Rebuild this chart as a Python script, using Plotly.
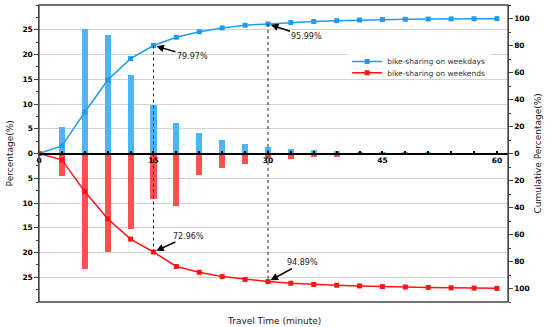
import plotly.graph_objects as go

# ---- data ----
minutes = [3, 6, 9, 12, 15, 18, 21, 24, 27, 30, 33, 36, 39, 42, 45, 48, 51, 54, 57, 60]
weekday_pct = [5.3, 25.1, 23.9, 15.9, 9.7, 6.2, 4.1, 2.7, 1.9, 1.35, 0.95, 0.75, 0.5, 0.35, 0.3, 0.2, 0.15, 0.1, 0.1, 0.1]
weekend_pct = [4.5, 23.4, 19.9, 15.3, 9.1, 10.6, 4.4, 3.0, 2.2, 1.0, 1.2, 0.8, 0.7, 0.4, 0.35, 0.3, 0.1, 0.05, 0.05, 0.05]

cum_minutes = [0, 3, 6, 9, 12, 15, 18, 21, 24, 27, 30, 33, 36, 39, 42, 45, 48, 51, 54, 57, 60]
weekday_cum = [0, 5.6, 30.6, 54.4, 70.3, 79.97, 86.1, 90.2, 93.0, 95.0, 95.99, 97.0, 97.8, 98.4, 98.9, 99.2, 99.4, 99.6, 99.7, 99.8, 99.9]
weekend_cum = [0, 4.7, 28.2, 48.3, 63.4, 72.96, 83.7, 88.0, 91.2, 93.3, 94.89, 96.1, 97.0, 97.6, 98.1, 98.6, 98.9, 99.2, 99.5, 99.7, 99.9]

x_ticks = [0, 15, 30, 45, 60]
left_ticks = [-25, -20, -15, -10, -5, 0, 5, 10, 15, 20, 25]
right_ticks = [-100, -80, -60, -40, -20, 0, 20, 40, 60, 80, 100]

marks = [15, 30]  # annotated minutes

FONT = "DejaVu Sans"
BLUE_BAR = "#4DB5F5"
RED_BAR = "#FF5050"
BLUE_LINE = "#1E9CF0"
RED_LINE = "#FF1414"

fig = go.Figure()
fig.add_trace(go.Bar(x=minutes, y=weekday_pct, marker=dict(color=BLUE_BAR, line_width=0),
                     width=0.8, showlegend=False))
fig.add_trace(go.Bar(x=minutes, y=[-v for v in weekend_pct], marker=dict(color=RED_BAR, line_width=0),
                     width=0.8, showlegend=False))
fig.add_trace(go.Scatter(x=cum_minutes, y=weekday_cum, yaxis="y2", mode="lines+markers",
                         name="bike-sharing on weekdays", legend="legend",
                         line=dict(color=BLUE_LINE, width=1.5),
                         marker=dict(symbol="square", size=5, color=BLUE_LINE)))
fig.add_trace(go.Scatter(x=cum_minutes, y=[-v for v in weekend_cum], yaxis="y2", mode="lines+markers",
                         name="bike-sharing on weekends", legend="legend2",
                         line=dict(color=RED_LINE, width=1.5),
                         marker=dict(symbol="square", size=5, color=RED_LINE)))

shapes = []
annotations = []
offsets_top = {15: (39, 11), 30: (39, 13)}
offsets_bot = {15: (35, -16), 30: (35, -19)}
for m in marks:
    i = cum_minutes.index(m)
    wd, we = weekday_cum[i], weekend_cum[i]
    shapes.append(dict(type="line", xref="x", yref="y2", x0=m, x1=m, y0=wd, y1=-we,
                       line=dict(color="#222", width=1, dash="dot"), layer="above"))
    annotations.append(dict(x=m, y=wd, xref="x", yref="y2", text=f"{wd:.2f}%",
                            ax=offsets_top[m][0], ay=offsets_top[m][1], showarrow=True,
                            arrowhead=2, arrowsize=1, arrowwidth=1.5, arrowcolor="black",
                            standoff=3, font=dict(family=FONT, size=8, color="#222")))
    annotations.append(dict(x=m, y=-we, xref="x", yref="y2", text=f"{we:.2f}%",
                            ax=offsets_bot[m][0], ay=offsets_bot[m][1], showarrow=True,
                            arrowhead=2, arrowsize=1, arrowwidth=1.5, arrowcolor="black",
                            standoff=3, font=dict(family=FONT, size=8, color="#222")))

# outer frame
shapes.append(dict(type="rect", xref="paper", yref="paper", x0=0, x1=1, y0=0, y1=1,
                   line=dict(color="#444", width=1.3), layer="above"))

annotations += [
    dict(text="Travel Time (minute)", xref="paper", yref="paper", x=0.5, y=-0.04,
         yanchor="top", showarrow=False, font=dict(family=FONT, size=9, color="#222")),
    dict(text="Percentage(%)", xref="paper", yref="paper", x=-0.062, y=0.5, textangle=-90,
         xanchor="center", yanchor="middle", showarrow=False,
         font=dict(family=FONT, size=9, color="#222")),
    dict(text="Cumulative Percentage(%)", xref="paper", yref="paper", x=1.062, y=0.5, textangle=-90,
         xanchor="center", yanchor="middle", showarrow=False,
         font=dict(family=FONT, size=9, color="#222")),
]

tickfont = dict(family=FONT, size=7.5, color="black", weight="bold")
legend_common = dict(xanchor="left", yanchor="middle", borderwidth=0,
                     font=dict(family=FONT, size=7.5, color="#333"), itemwidth=30)

fig.update_layout(
    width=550, height=327,
    margin=dict(l=39, r=42, t=5, b=25, autoexpand=False),
    paper_bgcolor="white", plot_bgcolor="white",
    barmode="overlay", bargap=0,
    font=dict(family=FONT),
    xaxis=dict(range=[0, 61.45], anchor="free", position=0.5, showgrid=False, zeroline=False,
               automargin=False,
               showline=True, linecolor="black", linewidth=1.8,
               tickvals=x_ticks, ticks="inside", ticklen=2, tickcolor="black", tickwidth=1.5,
               tickfont=tickfont, ticklabelstandoff=0,
               minor=dict(tickmode="linear", tick0=0, dtick=3, ticks="inside", ticklen=2,
                          tickcolor="black", tickwidth=1.5, showgrid=False)),
    yaxis=dict(range=[-30, 30], tickvals=left_ticks, ticktext=[str(abs(v)) for v in left_ticks],
               automargin=False,
               showgrid=True, gridcolor="#D2D2D2", gridwidth=1, zeroline=False,
               showline=True, linecolor="#444", linewidth=1.3,
               ticks="outside", ticklen=3.5, tickcolor="#444", tickfont=tickfont,
               minor=dict(tickmode="linear", tick0=0, dtick=2.5, ticks="outside", ticklen=2,
                          tickcolor="#444", showgrid=False)),
    yaxis2=dict(range=[-110, 110], overlaying="y", side="right", anchor="x",
                automargin=False,
                tickvals=right_ticks, ticktext=[str(abs(v)) for v in right_ticks],
                showgrid=False, zeroline=False, showline=True, linecolor="#444", linewidth=1.3,
                ticks="outside", ticklen=3.5, tickcolor="#444", tickfont=tickfont,
                minor=dict(tickmode="linear", tick0=0, dtick=10, ticks="outside", ticklen=2,
                           tickcolor="#444", showgrid=False)),
    legend=dict(x=0.657, y=0.81, bgcolor="white", **legend_common),
    legend2=dict(x=0.657, y=0.772, bgcolor="rgba(255,255,255,0)", **legend_common),
    shapes=shapes,
    annotations=annotations,
)

fig.write_html("out.html", config={"displayModeBar": False},
               post_script="document.body.style.margin='0';")
